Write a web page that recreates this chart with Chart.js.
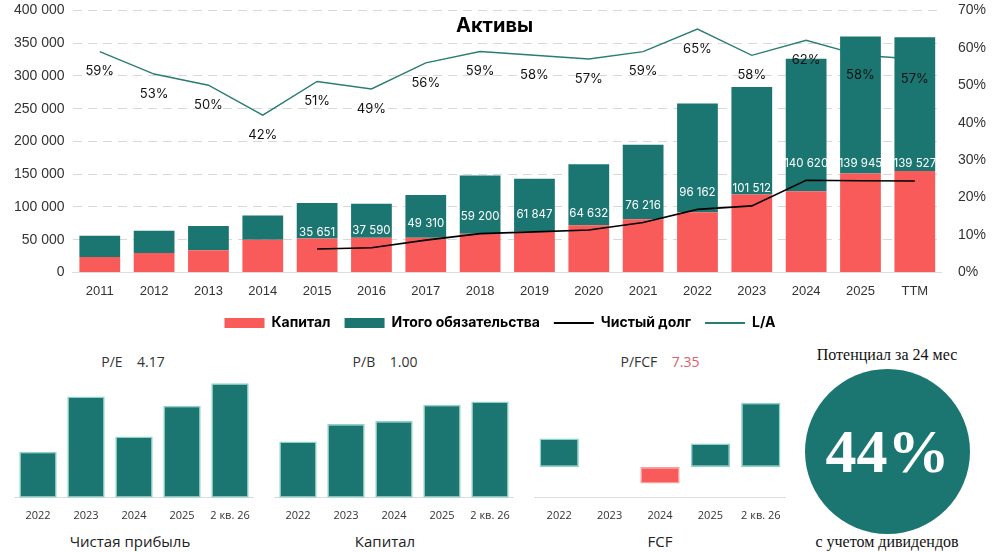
<!DOCTYPE html>
<html lang="ru">
<head>
<meta charset="UTF-8" />
<title>Активы</title>
<script src="https://cdn.jsdelivr.net/npm/chart.js"></script>
<style>
  body { margin: 0; background: #fff; font-family: Inter, "Noto Sans", sans-serif; }
  .wrap { position: relative; width: 1000px; height: 552px; overflow: hidden; }
  .box { position: absolute; }
  .title { position: absolute; left: 456px; top: 13px; font: bold 20px Inter, sans-serif; color: #000; }
  .mt { position: absolute; font: 14px "Open Sans", sans-serif; color: #333; text-align: center; white-space: pre; }
  .sub { position: absolute; font: 15px "Open Sans", sans-serif; color: #222; text-align: center; }
  .circle { position: absolute; left: 805px; top: 369px; width: 165px; height: 165px; border-radius: 50%; background: #1b7672;
    color: #fff; font: bold 62px "Liberation Serif", serif; display: flex; align-items: center; justify-content: center; }
  .serif { position: absolute; font: 16px "Liberation Serif", serif; color: #111; text-align: center; width: 220px; }
</style>
</head>
<body>
<div class="wrap">
  <div class="box" style="left:0;top:-6px;width:1000px;height:346px"><canvas id="main"></canvas></div>
  <div class="title">Активы</div>

  <div class="box" style="left:14px;top:375px;width:240px;height:150px"><canvas id="pe"></canvas></div>
  <div class="box" style="left:274px;top:375px;width:240px;height:150px"><canvas id="pb"></canvas></div>
  <div class="box" style="left:534px;top:375px;width:252px;height:150px"><canvas id="fcf"></canvas></div>

  <div class="mt" style="left:58px;top:352px;width:150px">P/E    4.17</div>
  <div class="mt" style="left:310px;top:352px;width:150px">P/B    1.00</div>
  <div class="mt" style="left:585px;top:352px;width:150px">P/FCF    <span style="color:#d9606a">7.35</span></div>
  <div class="sub" style="left:40px;top:531px;width:180px">Чистая прибыль</div>
  <div class="sub" style="left:310px;top:531px;width:150px">Капитал</div>
  <div class="sub" style="left:585px;top:531px;width:150px">FCF</div>

  <div class="serif" style="left:777px;top:346px">Потенциал за 24 мес</div>
  <div class="circle">44%</div>
  <div class="serif" style="left:777px;top:533px">с учетом дивидендов</div>
</div>

<script>
  const years = ['2011','2012','2013','2014','2015','2016','2017','2018','2019','2020','2021','2022','2023','2024','2025','TTM'];
  const capital = [23600, 29500, 34000, 50000, 51700, 53000, 53000, 59000, 62000, 72000, 81000, 92000, 119000, 124000, 151000, 155000];
  const totalAssets = [56000, 63500, 70800, 87000, 106000, 105000, 118000, 148000, 143000, 165000, 195000, 258000, 283000, 326000, 360000, 359000];
  const liabilities = totalAssets.map((t, i) => t - capital[i]);
  const netDebt = [null, null, null, null, 35651, 37590, 49310, 59200, 61847, 64632, 76216, 96162, 101512, 140620, 139945, 139527];
  const la = [59, 53, 50, 42, 51, 49, 56, 59, 58, 57, 59, 65, 58, 62, 58, 57];

  const smallYears = ['2022', '2023', '2024', '2025', '2 кв. 26'];
  const profit = [45, 99, 60, 90, 112];
  const equity = [55, 72, 75, 91, 94];
  const fcf = [28, null, -16, 23, 63];

  const TEAL = '#1b7672';
  const RED = '#f95a5a';
  const fmt = v => String(v).replace(/\B(?=(\d{3})+(?!\d))/g, ' ');

  const labelPlugin = {
    id: 'labels',
    afterDatasetsDraw(chart) {
      const ctx = chart.ctx;
      ctx.save();
      ctx.textAlign = 'center';
      ctx.textBaseline = 'middle';
      const laMeta = chart.getDatasetMeta(3);
      ctx.font = '13px Inter, sans-serif';
      ctx.fillStyle = '#111';
      laMeta.data.forEach((p, i) => ctx.fillText(la[i] + '%', p.x, p.y + 20));
      const dMeta = chart.getDatasetMeta(2);
      ctx.font = '11.5px Inter, sans-serif';
      ctx.fillStyle = '#fff';
      dMeta.data.forEach((p, i) => {
        if (netDebt[i] != null) ctx.fillText(fmt(netDebt[i]), p.x, p.y - 17);
      });
      ctx.restore();
    }
  };

  new Chart(document.getElementById('main'), {
    data: {
      labels: years,
      datasets: [
        { type: 'bar', label: 'Капитал', data: capital, backgroundColor: RED, stack: 's', order: 2, yAxisID: 'y' },
        { type: 'bar', label: 'Итого обязательства', data: liabilities, backgroundColor: TEAL, stack: 's', order: 2, yAxisID: 'y' },
        { type: 'line', label: 'Чистый долг', data: netDebt, borderColor: '#000', borderWidth: 1.6, pointRadius: 0, pointStyle: 'line', order: 1, yAxisID: 'y' },
        { type: 'line', label: 'L/A', data: la, borderColor: '#2a7d72', borderWidth: 1.4, pointRadius: 0, pointStyle: 'line', order: 3, yAxisID: 'y2' }
      ]
    },
    options: {
      responsive: true,
      maintainAspectRatio: false,
      animation: false,
      layout: { padding: { left: 6, right: 6, top: 2, bottom: 0 } },
      plugins: {
        tooltip: { enabled: false },
        legend: {
          position: 'bottom',
          labels: {
            usePointStyle: true,
            pointStyleWidth: 40,
            boxHeight: 10,
            padding: 14,
            color: '#111',
            font: { size: 14, weight: 'bold', family: 'Inter, sans-serif' },
            generateLabels(chart) {
              return chart.data.datasets.map((d, i) => ({
                text: d.label,
                fillStyle: d.type === 'bar' ? d.backgroundColor : d.borderColor,
                strokeStyle: d.type === 'bar' ? d.backgroundColor : d.borderColor,
                lineWidth: d.type === 'bar' ? 0 : 2,
                pointStyle: d.type === 'bar' ? 'rect' : 'line',
                datasetIndex: i
              }));
            }
          }
        }
      },
      scales: {
        x: {
          stacked: true,
          grid: { display: false },
          border: { color: '#ddd' },
          ticks: { color: '#333', font: { size: 13 } }
        },
        y: {
          stacked: true,
          min: 0, max: 400000,
          ticks: { stepSize: 50000, color: '#333', font: { size: 14 }, padding: 8, callback: v => fmt(v) },
          grid: { color: '#d8d8d8', lineWidth: 1, drawTicks: false },
          border: { display: false, dash: [9, 6] }
        },
        y2: {
          position: 'right',
          min: 0, max: 70,
          ticks: { stepSize: 10, color: '#333', font: { size: 14 }, padding: 8, callback: v => v + '%' },
          grid: { display: false },
          border: { display: false }
        }
      },
      datasets: { bar: { barPercentage: 0.75, categoryPercentage: 1 } }
    },
    plugins: [labelPlugin]
  });

  function smallChart(id, data, min, max) {
    new Chart(document.getElementById(id), {
      type: 'bar',
      data: {
        labels: smallYears,
        datasets: [{
          data: data,
          backgroundColor: data.map(v => v < 0 ? RED : TEAL),
          borderColor: data.map(v => v < 0 ? '#f7a0a0' : '#8fd3c8'),
          borderWidth: 1.5,
          borderSkipped: false,
          barPercentage: 0.78,
          categoryPercentage: 1
        }]
      },
      options: {
        responsive: true,
        maintainAspectRatio: false,
        animation: false,
        plugins: { legend: { display: false }, tooltip: { enabled: false } },
        scales: {
          x: { grid: { display: false }, border: { color: '#ddd' }, ticks: { color: '#333', font: { size: 11, family: '"Open Sans", sans-serif' } } },
          y: { display: false, min: min, max: max }
        }
      }
    });
  }
  smallChart('pe', profit, 0, 120);
  smallChart('pb', equity, 0, 120);
  smallChart('fcf', fcf, -30, 90);
</script>
</body>
</html>
